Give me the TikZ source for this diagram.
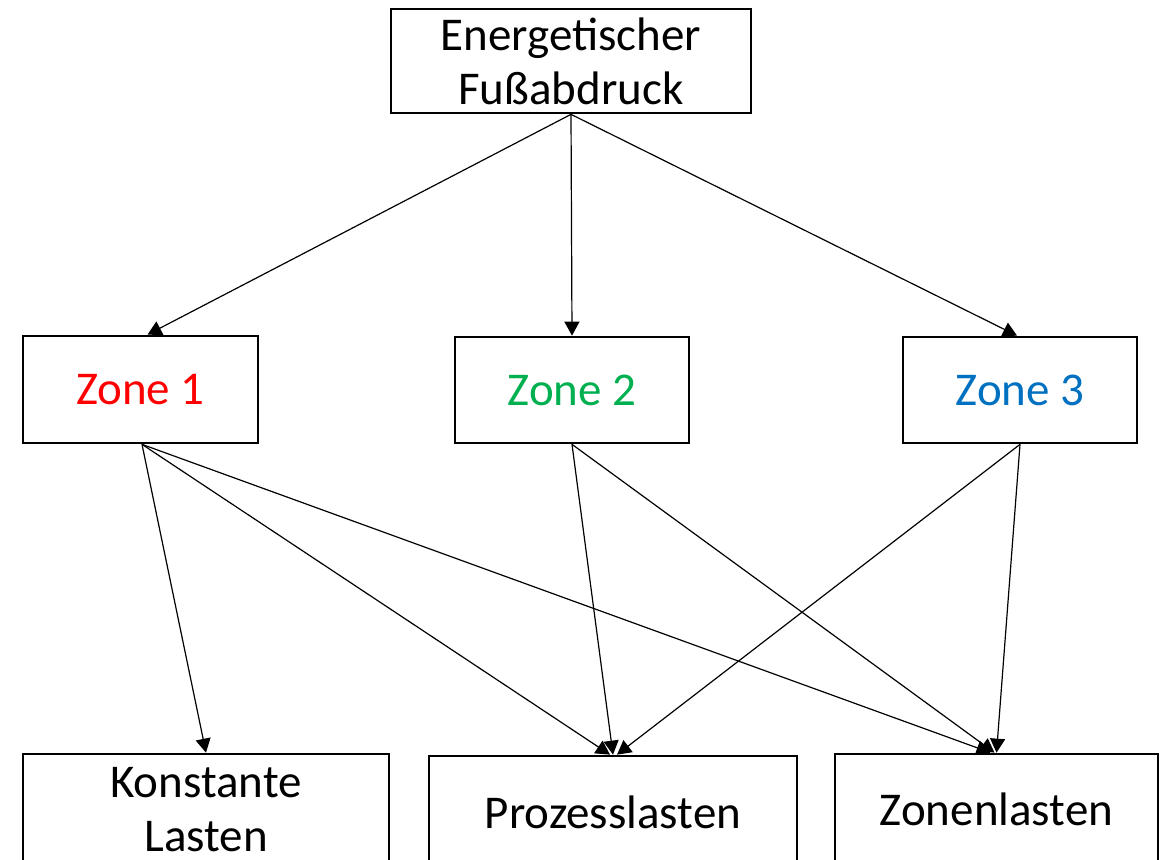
\documentclass[tikz,border=0pt]{standalone}
\usepackage{fontspec}
\setmainfont{Carlito}
\usetikzlibrary{arrows.meta}
\begin{document}
\begin{tikzpicture}[x=1pt,y=-1pt,
  box/.style={draw=black,line width=2.7pt,fill=white,inner sep=0pt,align=center,
    font=\fontsize{47}{54}\selectfont},
  conn/.style={line width=1.2pt,-{Triangle[length=14pt,width=15pt]}}]
\useasboundingbox (0,0) rectangle (1166,859);
\clip (0,0) rectangle (1166,859);
\fill[white] (0,0) rectangle (1166,859);
\node[box,minimum width=360pt,minimum height=104pt] (top) at (571,61) {Energetischer\\Fußabdruck};
\node[box,minimum width=235pt,minimum height=107pt,text={rgb,255:red,255;green,0;blue,0}] (z1) at (140.5,389.5) {Zone 1};
\node[box,minimum width=234pt,minimum height=106pt,text={rgb,255:red,0;green,176;blue,80}] (z2) at (572,390) {Zone 2};
\node[box,minimum width=234pt,minimum height=106pt,text={rgb,255:red,0;green,112;blue,192}] (z3) at (1020,390) {Zone 3};
\node[box,minimum width=366pt,minimum height=112pt] (kl) at (206,810) {Konstante\\Lasten};
\node[box,minimum width=368pt,minimum height=112pt] (pl) at (613,812) {Prozesslasten};
\node[box,minimum width=323pt,minimum height=110pt] (zl) at (996.5,809) {Zonenlasten};
\draw[conn] (top.south) -- ([xshift=7pt]z1.north);
\draw[conn] (top.south) -- (z2.north);
\draw[conn] (top.south) -- ([xshift=-3pt]z3.north);
\draw[conn] ([xshift=1.5pt]z1.south) -- (kl.north);
\draw[conn] ([xshift=1.5pt]z1.south) -- ([xshift=-3pt]pl.north);
\draw[conn] ([xshift=1.5pt]z1.south) -- ([xshift=-6pt]zl.north);
\draw[conn] (z2.south) -- (pl.north);
\draw[conn] (z2.south) -- ([xshift=-2pt]zl.north);
\draw[conn] (z3.south) -- ([xshift=4pt]pl.north);
\draw[conn] (z3.south) -- (zl.north);
\end{tikzpicture}
\end{document}
